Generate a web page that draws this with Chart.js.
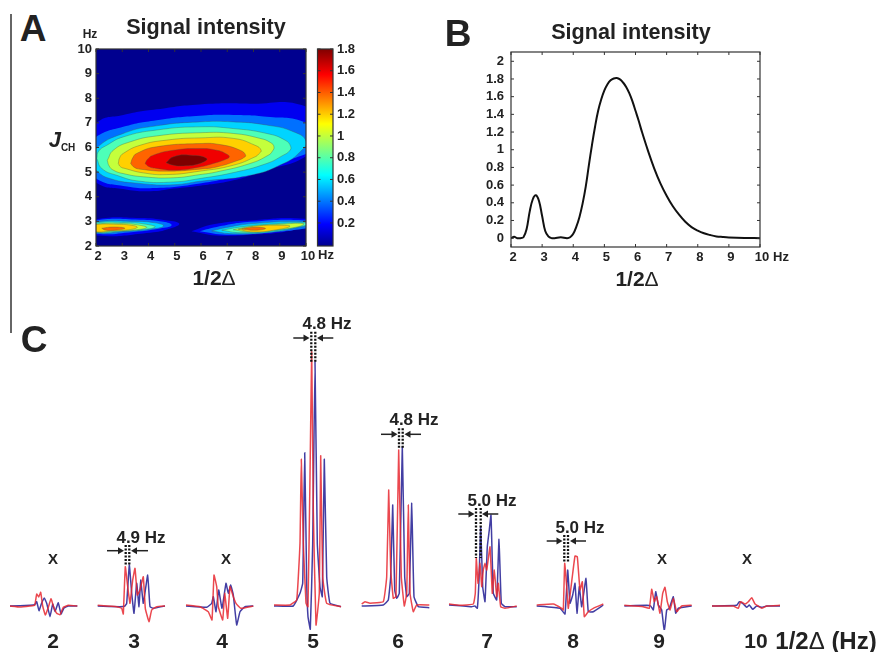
<!DOCTYPE html>
<html>
<head>
<meta charset="utf-8">
<script src="https://cdn.jsdelivr.net/npm/chart.js@4"></script>
<style>
  html, body { margin: 0; padding: 0; background: #fff; }
  body { width: 882px; height: 652px; position: relative; overflow: hidden; font-family: "Liberation Sans", Arial, sans-serif; font-weight: bold; color: #222; filter: blur(0.3px); }
  canvas { position: absolute; }
  .lbl { position: absolute; white-space: nowrap; transform: translate(-50%, -50%); line-height: 1; }
  .lbl .thin { font-weight: normal; }
  #rule { position: absolute; left: 10px; top: 14px; width: 1.5px; height: 319px; background: #666; }
</style>
</head>
<body>
<div id="rule"></div>
<canvas id="chartA" style="left:60px;top:40px" width="266" height="231"></canvas>
<canvas id="chartBar" style="left:310px;top:40px" width="53" height="231"></canvas>
<canvas id="chartB" style="left:470px;top:40px" width="310" height="232"></canvas>
<canvas id="chartC" style="left:0;top:300px" width="882" height="352"></canvas>
<script>
// panel A contours, outermost level first, [1/2delta Hz, JCH Hz]
const mainBlob = [
  [[1.14,5.6],[2,6.98],[3.04,7.32],[4.31,7.55],[5.96,7.75],[7.87,7.78],[9.97,7.68],[11.04,6.7],[9.97,5.62],[8.5,5.08],[7.23,4.67],[5.96,4.45],[4.95,4.33],[4.06,4.22],[3.04,4.31],[2,4.58]],
  [[1.14,5.6],[2,6.43],[3.04,6.84],[4.31,7.11],[5.96,7.29],[7.23,7.32],[8.5,7.25],[9.97,7.02],[11.04,6.2],[9.97,5.73],[8.5,5.21],[7.23,4.81],[5.96,4.54],[4.31,4.36],[3.04,4.44],[2,4.74]],
  [[1.8,5.4],[2,5.96],[3.04,6.57],[4.31,6.88],[5.96,7.04],[7.23,7.04],[8.5,6.91],[9.52,6.64],[10,6.25],[9.77,5.82],[9.14,5.35],[7.87,4.87],[5.96,4.63],[4.95,4.49],[3.68,4.54],[2.53,4.74],[2,5.08]],
  [[2.03,5.55],[2.1,5.85],[2.41,6.09],[3.04,6.43],[4.31,6.71],[5.96,6.84],[7.23,6.77],[8.5,6.57],[9.2,6.3],[9.42,6.03],[9.36,5.85],[9.14,5.69],[8.5,5.35],[7.23,4.98],[5.96,4.74],[4.95,4.6],[3.68,4.63],[2.79,4.87],[2.22,5.15]],
  [[2.43,5.48],[2.66,5.89],[3.3,6.23],[4.31,6.47],[5.96,6.6],[7.23,6.57],[8.25,6.37],[8.65,6.2],[8.78,6.03],[8.72,5.85],[8.57,5.69],[7.87,5.35],[6.6,5.01],[5.96,4.9],[4.95,4.77],[3.8,4.81],[3.04,4.94],[2.66,5.08],[2.5,5.25]],
  [[2.85,5.35],[2.9,5.58],[3.04,5.76],[3.68,6.09],[4.69,6.3],[5.96,6.39],[7.23,6.37],[8.06,6.09],[8.29,5.89],[8.2,5.74],[8.06,5.62],[7.23,5.28],[5.96,5.04],[4.69,4.9],[3.8,4.97],[3.1,5.15],[2.93,5.22]],
  [[3.32,5.35],[3.4,5.58],[3.55,5.76],[4.31,6.03],[5.96,6.16],[6.72,6.12],[7.49,5.89],[7.7,5.69],[7.62,5.58],[7.42,5.48],[6.6,5.21],[5.96,5.12],[4.69,5.04],[3.68,5.12],[3.45,5.2]],
  [[3.87,5.35],[3.97,5.53],[4.18,5.69],[4.95,5.89],[5.96,5.96],[6.6,5.89],[6.95,5.75],[7.08,5.62],[6.9,5.5],[6.47,5.35],[5.96,5.21],[5.07,5.08],[4.31,5.15],[4.02,5.22]],
  [[4.67,5.38],[4.95,5.62],[5.58,5.69],[6.22,5.55],[5.96,5.35],[5.33,5.25],[4.95,5.28]]
];
const lowLeftBlob = [
  [[1.5,2.75],[2,3.08],[3.68,3.14],[4.69,3.04],[5.17,2.91],[4.82,2.71],[4.06,2.54],[2,2.43]],
  [[1.5,2.75],[2,3.04],[3.68,3.07],[4.57,2.98],[4.88,2.84],[4.44,2.71],[3.42,2.57],[2,2.5]],
  [[1.5,2.75],[2,2.98],[3.42,3.0],[4.25,2.94],[4.57,2.81],[4.06,2.68],[3.17,2.6],[2,2.54]],
  [[1.5,2.75],[2,2.94],[3.17,2.95],[3.93,2.88],[4.25,2.77],[3.68,2.66],[2.91,2.6],[2,2.56]],
  [[1.5,2.75],[2,2.89],[3.04,2.91],[3.68,2.84],[3.93,2.75],[3.42,2.65],[2.66,2.61],[2,2.57]],
  [[1.5,2.75],[2,2.87],[2.79,2.88],[3.42,2.83],[3.57,2.75],[3.17,2.65],[2.53,2.61],[2,2.58]],
  [[2.22,2.72],[2.66,2.77],[3.1,2.72],[2.72,2.64],[2.34,2.65]]
];
const lowRightBlob = [
  [[5.64,2.6],[6.47,2.88],[7.87,3.04],[9.97,3.11],[10.6,2.85],[9.97,2.77],[9.14,2.57],[7.87,2.46],[6.6,2.43]],
  [[5.96,2.6],[6.6,2.77],[7.87,2.98],[9.97,3.04],[10.5,2.85],[9.97,2.71],[8.5,2.54],[6.98,2.46]],
  [[6.41,2.61],[6.98,2.75],[7.99,2.91],[9.97,2.98],[10.4,2.85],[9.97,2.8],[8.76,2.57],[7.23,2.5]],
  [[6.79,2.64],[7.49,2.77],[8.5,2.88],[9.97,2.94],[10.3,2.85],[9.97,2.83],[8.76,2.61],[7.49,2.54]],
  [[7.23,2.66],[7.99,2.8],[9.01,2.88],[9.9,2.91],[9.77,2.8],[8.76,2.64],[7.87,2.57]],
  [[7.42,2.68],[8.12,2.81],[9.01,2.84],[9.39,2.8],[8.88,2.66],[7.99,2.57]],
  [[7.55,2.69],[8.06,2.76],[8.46,2.71],[8.06,2.64]]
];
const levelColours = ['#0000f0', '#0070ff', '#00d4ff', '#4dffb8', '#c4ff3c', '#ffd000', '#ff6400', '#f00000', '#7d0000'];

// panel B
const curveX = [2,2.1,2.2,2.3,2.4,2.5,2.6,2.7,2.8,2.9,3,3.1,3.2,3.3,3.4,3.6,3.8,3.9,4,4.1,4.2,4.3,4.4,4.5,4.6,4.7,4.8,4.9,5,5.1,5.2,5.3,5.4,5.5,5.6,5.7,5.8,5.9,6,6.1,6.2,6.4,6.6,6.8,7,7.2,7.4,7.6,7.8,8,8.2,8.4,8.6,8.8,9,9.5,10];
const curveY = [0,0.015,0,0,0.01,0.1,0.3,0.44,0.485,0.42,0.25,0.08,0.02,0,0,0.01,0,0.01,0.05,0.13,0.24,0.39,0.58,0.82,1.05,1.26,1.44,1.57,1.67,1.74,1.785,1.805,1.81,1.795,1.76,1.71,1.64,1.55,1.44,1.33,1.21,0.99,0.79,0.62,0.48,0.36,0.265,0.185,0.125,0.085,0.055,0.035,0.02,0.013,0.008,0.002,0];

// panel C spectra, [position, height above baseline]
const spec2Red = [[10,0],[20,-1],[30,0],[34.7,0.7],[36.7,12],[38.7,9],[40.7,13.7],[42.7,0],[45.3,-9],[48,-2.3],[51,7.3],[53.3,0],[56.7,-7.3],[60,-8.7],[63.3,-1.3],[68.3,0.7],[77.3,0]];
const spec2Blue = [[10,0],[30,0.7],[34.7,1.3],[36.7,4.3],[39,-4.7],[41.3,2],[44.3,8],[46.7,2.7],[50,-10.7],[52.7,2],[55,-5.7],[58.3,3.3],[61,-8],[64,-2],[68.3,0],[77.3,0]];
const spec3Red = [[97.7,0.7],[116.7,-0.7],[121.7,-2.3],[123.3,-8],[125.3,39.3],[127.7,19.3],[130,2.7],[132.7,26],[135,37.7],[137.3,11],[140,16],[143.3,29.3],[145.3,-2.3],[149,-15.7],[151.7,-4],[156.7,-0.7],[165,0]];
const spec3Blue = [[97.7,0],[120,-0.7],[125,0],[126.7,2.7],[129.3,41],[131.7,12.7],[134,-7.3],[136.7,22.7],[139,-0.7],[140.7,26],[143.3,2.7],[147.7,31],[150,-0.7],[153.3,-2.3],[165,0]];
const spec4Red = [[186,1],[200,-0.7],[208.3,-5.7],[212,-14],[214,31],[216.7,19.3],[218.3,-0.7],[222.7,-14],[224.7,12.7],[227.7,-12.3],[230,19.3],[233.3,9.3],[236,2.7],[240.7,-2.3],[253.3,0]];
const spec4Blue = [[186,0],[206.7,-1.3],[211.7,2.7],[213.3,9.3],[216,-5.7],[218.7,16],[222,-2.3],[226,22.7],[228.3,12.7],[230.7,21],[233.3,11],[236.7,-19],[240,-5.7],[245,-0.7],[253.3,0]];
const spec5Red = [[274,1],[290,1],[296.7,6],[300,63],[301.3,146.7],[303.3,63],[306,2.7],[308,-0.7],[310,129],[311.7,254.3],[313.3,96],[316,-19],[319.3,12.7],[320.7,150.3],[322.7,29.3],[326.7,2.7],[341,-0.7]];
const spec5Blue = [[274,0],[293.3,0],[300,12.7],[302.7,22.7],[304.7,153.3],[306.7,22.7],[308,-10.7],[310.3,-23.3],[312.7,62.7],[315,244.3],[317.3,62.7],[320,19.3],[322.3,9.3],[324.3,146.7],[326.7,29.3],[330,2.7],[341,-0.7]];
const spec6Red = [[361.7,2],[365,4.3],[370,2.7],[383.3,4.3],[386.7,29.3],[388.7,116],[390.7,36],[393.3,7.7],[396,9.3],[398.7,156],[401.3,29.3],[404.3,0],[406.7,12.7],[408.3,101],[410,12.7],[413.3,-5.7],[416.7,1],[429.3,1]];
const spec6Blue = [[361.7,0],[383.3,1],[388.3,6],[390.7,29.3],[392.7,101],[394.7,16],[396.7,7.7],[399.3,12.7],[402.3,159.3],[404.7,29.3],[406.7,9.3],[409.3,12.7],[411.7,102.7],[414,9.3],[418.3,-0.7],[429.3,-1.7]];
const spec7Red = [[449,2],[460,0.7],[473.3,2],[475.3,12.7],[476.3,47.7],[478,22.7],[480,42.7],[481.7,19.3],[483.3,36],[485,42.7],[486.7,36],[490,59.3],[492.3,12.7],[494.3,36],[496.7,9.3],[498.3,22.7],[500.7,-0.7],[505,-2.3],[516.7,0]];
const spec7Blue = [[449,1],[471.7,-0.7],[475,0],[477.3,-2.3],[479,26],[480.7,79.3],[482.7,19.3],[485,4.3],[487.3,59.3],[489.3,76],[491,91],[493.3,12.7],[496.7,6],[499,66.7],[501.3,2.7],[505,-0.7],[516.7,-0.7]];
const spec8Red = [[536.7,1],[553.3,2],[561.7,-2.3],[563.3,-4],[564.7,42.7],[566.7,19.3],[568.3,-2.3],[572.3,29.3],[575,50],[577.3,49.3],[580,16],[582.3,24.3],[584.3,-10.7],[588.3,-5.7],[593.3,-2.3],[603.3,2]];
const spec8Blue = [[536.7,0],[560,-2.3],[565,-8],[567.7,36],[570,2.7],[572.7,11],[575,22.7],[577,-7.3],[579.3,19.3],[581.7,-0.7],[586,27.7],[588.3,-5.7],[593.3,-5.7],[603.3,1]];
const spec9Red = [[624.3,0.7],[643.3,-0.7],[649.3,-2.3],[651.7,16.7],[654.3,4.3],[656.7,9.3],[660,-7.3],[662.7,12.7],[665,18.7],[667.3,4.3],[670,-4],[673.3,7.7],[676.7,-5.7],[681.7,0],[691.7,0.7]];
const spec9Blue = [[624.3,0],[646.7,0.7],[650.7,0],[653.3,-4],[655.7,14.3],[658.3,1],[661.7,-4],[664.3,-25.7],[666.7,-4],[669.3,-2.3],[673.3,9.3],[675.7,-7.3],[678.3,-2.3],[691.7,0]];
const spec10Red = [[712,0],[733.3,0],[738.3,-2.3],[740.7,4.3],[745,2],[748.3,4.3],[751.7,8.3],[755,2],[758.3,0],[761.7,-2.3],[766.7,0],[780,0.7]];
const spec10Blue = [[712,0],[736.7,0.7],[739.3,4.3],[743.3,2],[746.7,-1.3],[749.3,1],[752.7,-3.3],[756.7,0],[761.7,-1.3],[766.7,0],[780,0]];
const specTicks = [53,134,222,313,398,487,573,659,756];
const specTickLabels = ['2','3','4','5','6','7','8','9','10'];

const fontBold = size => ({ family: '"Liberation Sans", Arial, sans-serif', weight: 'bold', size: size });

// box round the plot with small inward ticks, matlab style
const framePlugin = {
  id: 'frame',
  afterDraw(chart) {
    const { ctx, chartArea: a } = chart;
    ctx.save();
    ctx.strokeStyle = '#333';
    ctx.lineWidth = 1.2;
    ctx.strokeRect(a.left, a.top, a.right - a.left, a.bottom - a.top);
    ctx.lineWidth = 1;
    ctx.beginPath();
    Object.values(chart.scales).forEach(s => {
      if (s.type !== 'linear') return;
      s.ticks.forEach(t => {
        const p = s.getPixelForValue(t.value);
        if (s.axis === 'x') {
          ctx.moveTo(p, a.bottom); ctx.lineTo(p, a.bottom - 3);
          ctx.moveTo(p, a.top); ctx.lineTo(p, a.top + 3);
        } else {
          ctx.moveTo(a.left, p); ctx.lineTo(a.left + 3, p);
          ctx.moveTo(a.right, p); ctx.lineTo(a.right - 3, p);
        }
      });
    });
    ctx.stroke();
    ctx.restore();
  }
};

function plotAxis(min, max, step, size, pad, extra) {
  const isX = extra && extra.isX;
  return Object.assign({
    type: 'linear', min: min, max: max,
    grid: { display: false, drawTicks: false }, border: { display: false },
    afterFit(s) {
      if (s.axis === 'x') s.height = size; else s.width = size;
      // keep the plot box where it was asked for, whatever the labels want
      s.paddingTop = s.paddingBottom = s.paddingLeft = s.paddingRight = 0;
    },
    ticks: {
      stepSize: step, autoSkip: false, maxRotation: 0, padding: pad, labelOffset: isX ? 2 : 0, color: '#222', font: fontBold(13),
      callback: v => String(Math.round(v * 10) / 10)
    }
  }, extra || {});
}

// contour datasets
function contourSets() {
  const sets = [{ data: [[2,2],[10,2],[10,10],[2,10],[2,2]].map(p => ({ x: p[0], y: p[1] })), backgroundColor: '#00008f', borderWidth: 0 }];
  [mainBlob, lowLeftBlob, lowRightBlob].forEach(blob => {
    blob.forEach((ring, i) => {
      const pts = ring.concat([ring[0]]).map(p => ({ x: p[0], y: p[1] }));
      sets.push({
        data: pts, backgroundColor: levelColours[i],
        borderColor: i < 2 ? levelColours[i] : 'rgba(70,90,70,0.5)', borderWidth: i < 2 ? 0 : 0.7,
        tension: 0.5, capBezierPoints: false
      });
    });
  });
  const n = sets.length;
  return sets.map((s, i) => Object.assign(s, { showLine: true, fill: 'shape', pointRadius: 0, order: n - i }));
}

new Chart(document.getElementById('chartA'), {
  type: 'scatter',
  data: { datasets: contourSets() },
  options: {
    responsive: false, animation: false,
    layout: { autoPadding: false, padding: { top: 9, right: 20 } },
    plugins: { legend: { display: false }, tooltip: { enabled: false } },
    scales: {
      x: plotAxis(2, 10, 1, 25, 3, { isX: true }),
      y: plotAxis(2, 10, 1, 36, 4)
    }
  },
  plugins: [framePlugin]
});

// colour bar
new Chart(document.getElementById('chartBar'), {
  type: 'bar',
  data: {
    labels: [''],
    datasets: [{
      data: [[-0.012, 1.8]], barPercentage: 1, categoryPercentage: 1,
      backgroundColor(c) {
        const a = c.chart.chartArea;
        if (!a) return '#00f';
        const g = c.chart.ctx.createLinearGradient(0, a.bottom, 0, a.top);
        g.addColorStop(0, '#00008f'); g.addColorStop(0.11, '#0000ff'); g.addColorStop(0.36, '#00ffff');
        g.addColorStop(0.62, '#ffff00'); g.addColorStop(0.87, '#ff0000'); g.addColorStop(1, '#800000');
        return g;
      }
    }]
  },
  options: {
    responsive: false, animation: false,
    layout: { autoPadding: false, padding: { top: 9, left: 7.5, bottom: 25 } },
    plugins: { legend: { display: false }, tooltip: { enabled: false } },
    scales: {
      x: { display: false, grid: { display: false } },
      y: plotAxis(-0.012, 1.8, 0.2, 30, 4, {
        position: 'right',
        afterBuildTicks(s) { s.ticks = [0.2,0.4,0.6,0.8,1,1.2,1.4,1.6,1.8].map(v => ({ value: v })); }
      })
    }
  },
  plugins: [framePlugin]
});

new Chart(document.getElementById('chartB'), {
  type: 'scatter',
  data: {
    datasets: [{
      data: curveX.map((x, i) => ({ x: x, y: curveY[i] })), showLine: true, borderColor: '#111', borderWidth: 2,
      pointRadius: 0, tension: 0.4, capBezierPoints: false
    }]
  },
  options: {
    responsive: false, animation: false,
    layout: { autoPadding: false, padding: { top: 12, right: 20 } },
    plugins: { legend: { display: false }, tooltip: { enabled: false } },
    scales: {
      x: plotAxis(2, 10, 1, 25, 3, { isX: true }),
      y: plotAxis(-0.1, 2.105, 0.2, 41, 7, {
        afterBuildTicks(s) { s.ticks = [0,0.2,0.4,0.6,0.8,1,1.2,1.4,1.6,1.8,2].map(v => ({ value: v })); }
      })
    }
  },
  plugins: [framePlugin]
});

// panel C
const specPairs = [
  [spec2Blue, spec2Red], [spec3Blue, spec3Red], [spec4Blue, spec4Red], [spec5Blue, spec5Red], [spec6Blue, spec6Red],
  [spec7Blue, spec7Red], [spec8Blue, spec8Red], [spec9Blue, spec9Red], [spec10Blue, spec10Red]
];
// couplings: dotted pair x, dotted top and bottom height, arrow height, arrow tails and tips
const couplings = [
  [125.7,129.3, 61,41, 55.3, 107,120, 148,135],
  [311.3,315.3, 274.3,244.3, 268, 293.3,305.5, 333.3,321],
  [399,402.7, 177.7,157.7, 171.7, 381,393.5, 421,408.5],
  [476,480.7, 98,48, 92, 458.3,470.5, 498.3,486],
  [564.3,568, 71,43, 65, 546.7,558.5, 586,574]
];
const specSets = [];
specPairs.forEach(pair => {
  pair.forEach((s, i) => {
    specSets.push({
      data: s.map(p => ({ x: p[0], y: p[1] })), showLine: true, pointRadius: 0, tension: 0.1,
      borderColor: i ? 'rgba(232,40,48,0.85)' : 'rgba(40,35,150,0.88)', borderWidth: 1.5
    });
  });
});
couplings.forEach(c => {
  [c[0], c[1]].forEach(x => {
    specSets.push({ data: [{ x: x, y: c[2] }, { x: x, y: c[3] }], showLine: true, pointRadius: 0, borderColor: '#111', borderWidth: 2.3, borderDash: [2, 1.5] });
  });
  [[c[5], c[6], 90], [c[7], c[8], -90]].forEach(a => {
    specSets.push({
      data: [{ x: a[0], y: c[4] }, { x: a[1], y: c[4] }], showLine: true, borderColor: '#222', backgroundColor: '#222', borderWidth: 1.5,
      pointStyle: 'triangle', pointRadius: [0, 4], pointRotation: a[2], pointBorderWidth: 0
    });
  });
});
const nSpec = specSets.length;
specSets.forEach((s, i) => { s.order = nSpec - i; });

new Chart(document.getElementById('chartC'), {
  type: 'scatter',
  data: { datasets: specSets },
  options: {
    responsive: false, animation: false,
    layout: { autoPadding: false },
    plugins: { legend: { display: false }, tooltip: { enabled: false } },
    scales: {
      x: {
        type: 'linear', min: 0, max: 882, grid: { display: false, drawTicks: false }, border: { display: false },
        afterFit(s) { s.height = 22; s.paddingLeft = s.paddingRight = 0; },
        afterBuildTicks(s) { s.ticks = specTicks.map(v => ({ value: v })); },
        ticks: {
          autoSkip: false, maxRotation: 0, padding: 0, color: '#222', font: fontBold(21),
          callback: v => specTickLabels[specTicks.indexOf(v)]
        }
      },
      y: { type: 'linear', display: false, min: -24, max: 306 }
    }
  }
});

// text round the plots
const labels = [
  ['A', 33, 28, 37], ['B', 458, 33, 37], ['C', 34, 339, 37],
  ['Signal intensity', 206, 27, 21.6], ['Signal intensity', 631, 32, 21.6],
  ['Hz', 90, 34, 12], ['Hz', 326, 254, 13], ['Hz', 781, 256, 13],
  ['<i>J</i><span style="font-size:10px;position:relative;top:4px">CH</span>', 62, 140, 22],
  ['1/2<span class="thin">&Delta;</span>', 214, 277, 21], ['1/2<span class="thin">&Delta;</span>', 637, 278, 21],
  ['4.9 Hz', 141, 537, 17], ['4.8 Hz', 327, 323, 17], ['4.8 Hz', 414, 419, 17], ['5.0 Hz', 492, 500, 17], ['5.0 Hz', 580, 527, 17],
  ['X', 53, 558, 15], ['X', 226, 558, 15], ['X', 662, 558, 15], ['X', 747, 558, 15],
  ['1/2<span class="thin">&Delta;</span> (Hz)', 826, 641, 24]
];
labels.forEach(l => {
  const d = document.createElement('div');
  d.className = 'lbl';
  d.innerHTML = l[0];
  d.style.left = l[1] + 'px';
  d.style.top = l[2] + 'px';
  d.style.fontSize = l[3] + 'px';
  document.body.appendChild(d);
});
</script>
</body>
</html>
